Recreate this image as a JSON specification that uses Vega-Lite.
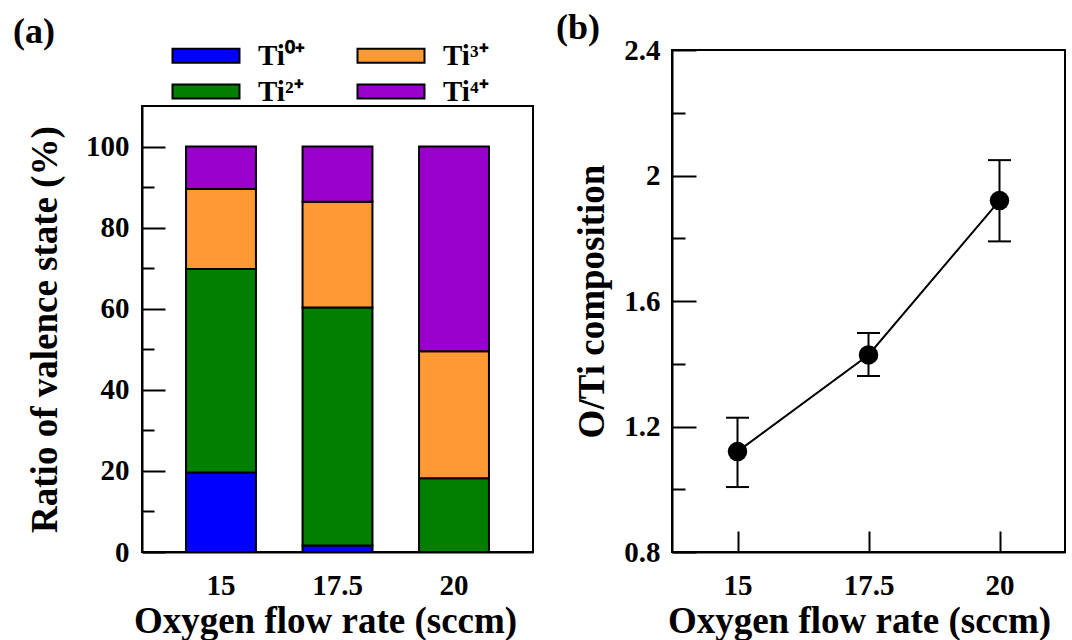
{
  "$schema": "https://vega.github.io/schema/vega-lite/v6.json",
  "padding": {"left": 13, "top": 9, "right": 0, "bottom": 0},
  "background": "white",
  "datasets": {
    "valence": [
      {"rate": "15", "state": "Ti0+", "percent": 19.6},
      {"rate": "15", "state": "Ti2+", "percent": 50.2},
      {"rate": "15", "state": "Ti3+", "percent": 19.7},
      {"rate": "15", "state": "Ti4+", "percent": 10.5},
      {"rate": "17.5", "state": "Ti0+", "percent": 1.6},
      {"rate": "17.5", "state": "Ti2+", "percent": 58.7},
      {"rate": "17.5", "state": "Ti3+", "percent": 26.1},
      {"rate": "17.5", "state": "Ti4+", "percent": 13.6},
      {"rate": "20", "state": "Ti0+", "percent": 0},
      {"rate": "20", "state": "Ti2+", "percent": 18.2},
      {"rate": "20", "state": "Ti3+", "percent": 31.3},
      {"rate": "20", "state": "Ti4+", "percent": 50.5}
    ],
    "composition": [
      {"rate": 15, "ratio": 1.12, "low": 1.007, "high": 1.228},
      {"rate": 17.5, "ratio": 1.428, "low": 1.361, "high": 1.498},
      {"rate": 20, "ratio": 1.92, "low": 1.79, "high": 2.049}
    ]
  },
  "hconcat": [
    {
      "vconcat": [
        {
          "title": {"text": "(a)", "dx": -129, "offset": -1},
          "width": 391,
          "height": 56,
          "view": {"stroke": null},
          "data": {"values": [{}]},
          "mark": {"type": "text"},
          "encoding": {"text": {"value": ""}}
        },
        {
          "width": 391,
          "height": 446,
          "data": {"name": "valence"},
          "mark": {"type": "bar", "stroke": "black", "strokeWidth": 2},
          "encoding": {
            "x": {
              "field": "rate",
              "type": "nominal",
              "sort": ["15", "17.5", "20"],
              "scale": {"paddingInner": 0.4, "paddingOuter": 0.378},
              "axis": {
                "title": "Oxygen flow rate (sccm)",
                "titleX": 183,
                "labelAngle": 0,
                "tickSize": -11,
                "labelPadding": 30,
                "titlePadding": 3
              }
            },
            "y": {
              "field": "percent",
              "type": "quantitative",
              "stack": "zero",
              "scale": {"domain": [0, 110], "nice": false},
              "axis": {
                "title": "Ratio of valence state (%)",
                "values": [0, 10, 20, 30, 40, 50, 60, 70, 80, 90, 100],
                "labelExpr": "datum.value % 20 === 0 ? datum.label : ''",
                "tickSize": {"condition": {"test": "datum.value % 20 === 0", "value": -23}, "value": -12},
                "labelPadding": 36,
                "titlePadding": 21
              }
            },
            "color": {
              "field": "state",
              "type": "nominal",
              "scale": {
                "domain": ["Ti0+", "Ti3+", "Ti2+", "Ti4+"],
                "range": ["#0000FF", "#FF9933", "#007F00", "#9900CC"]
              },
              "legend": {
                "orient": "none",
                "legendX": 23,
                "legendY": -9,
                "direction": "horizontal",
                "columns": 2,
                "title": null,
                "symbolType": "M-1,-1H8.57V1H-1Z",
                "symbolSize": 196,
                "symbolStrokeColor": "black",
                "symbolStrokeWidth": 2,
                "symbolOpacity": 1,
                "labelFont": "Liberation Serif",
                "labelFontSize": 29,
                "labelFontWeight": "bold",
                "labelColor": "black",
                "labelOffset": 64,
                "columnPadding": 45,
                "rowPadding": 6,
                "labelExpr": "replace(replace(replace(replace(datum.label, '0+', '⁰⁺'), '2+', '²⁺'), '3+', '³⁺'), '4+', '⁴⁺')"
              }
            },
            "order": {"field": "state", "sort": "ascending"}
          }
        }
      ],
      "spacing": 0,
      "bounds": "flush"
    },
    {
      "title": {"text": "(b)", "dx": -116, "offset": -11},
      "width": 393,
      "height": 502,
      "data": {"name": "composition"},
      "layer": [
        {
          "mark": {"type": "line", "color": "black", "strokeWidth": 2},
          "encoding": {
            "x": {
              "field": "rate",
              "type": "quantitative",
              "scale": {"domain": [13.75, 21.25], "nice": false, "zero": false},
              "axis": {
                "title": "Oxygen flow rate (sccm)",
                "titleX": 187,
                "values": [15, 17.5, 20],
                "labelExpr": "datum.value + ''",
                "tickSize": -21,
                "labelPadding": 40,
                "titlePadding": 3
              }
            },
            "y": {
              "field": "ratio",
              "type": "quantitative",
              "scale": {"domain": [0.8, 2.4], "nice": false, "zero": false},
              "axis": {
                "title": "O/Ti composition",
                "values": [0.8, 1, 1.2, 1.4, 1.6, 1.8, 2, 2.2, 2.4],
                "labelExpr": "round(datum.value * 10) % 4 === 0 ? datum.value + '' : ''",
                "tickSize": {"condition": {"test": "round(datum.value * 10) % 4 === 0", "value": -24}, "value": -13},
                "labelPadding": 36,
                "titlePadding": 12
              }
            }
          }
        },
        {
          "mark": {"type": "rule", "color": "black", "strokeWidth": 2},
          "encoding": {
            "x": {"field": "rate", "type": "quantitative"},
            "y": {"field": "low", "type": "quantitative"},
            "y2": {"field": "high"}
          }
        },
        {
          "mark": {"type": "tick", "orient": "horizontal", "color": "black", "size": 23, "thickness": 2, "opacity": 1},
          "encoding": {
            "x": {"field": "rate", "type": "quantitative"},
            "y": {"field": "low", "type": "quantitative"}
          }
        },
        {
          "mark": {"type": "tick", "orient": "horizontal", "color": "black", "size": 23, "thickness": 2, "opacity": 1},
          "encoding": {
            "x": {"field": "rate", "type": "quantitative"},
            "y": {"field": "high", "type": "quantitative"}
          }
        },
        {
          "mark": {"type": "point", "filled": true, "color": "black", "size": 380, "opacity": 1},
          "encoding": {
            "x": {"field": "rate", "type": "quantitative"},
            "y": {"field": "ratio", "type": "quantitative"}
          }
        }
      ]
    }
  ],
  "spacing": 21,
  "config": {
    "font": "Liberation Serif",
    "view": {"stroke": "black", "strokeWidth": 2},
    "axis": {
      "labelFont": "Liberation Serif",
      "labelFontSize": 29,
      "labelFontWeight": "bold",
      "labelColor": "black",
      "titleFont": "Liberation Serif",
      "titleFontSize": 37,
      "titleFontWeight": "bold",
      "titleColor": "black",
      "domainColor": "black",
      "domainWidth": 2,
      "tickColor": "black",
      "tickWidth": 2,
      "grid": false,
      "zindex": 1
    },
    "title": {
      "font": "Liberation Serif",
      "fontSize": 36,
      "fontWeight": "bold",
      "color": "black",
      "anchor": "start",
      "frame": "group"
    }
  }
}
